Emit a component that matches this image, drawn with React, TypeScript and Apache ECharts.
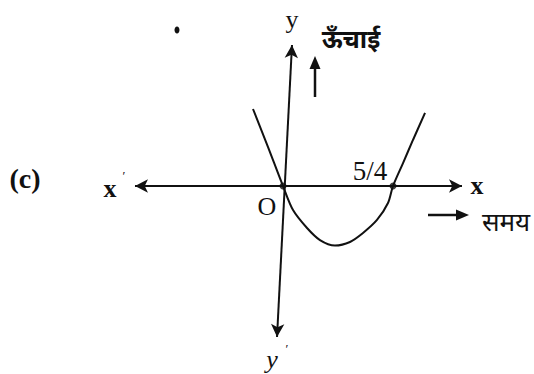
import React, { useEffect, useRef } from "react";
import * as echarts from "echarts";

// Parabola points (O at 0, second root at 5/4)
const curveX = [-0.341, -0.17, 0, 0.114, 0.273, 0.42, 0.591, 0.761, 0.909, 1.068, 1.193, 1.25, 1.364, 1.477, 1.614];
const curveY = [0.875, 0.443, 0, -0.273, -0.477, -0.614, -0.676, -0.636, -0.534, -0.386, -0.193, 0, 0.261, 0.523, 0.83];
const rootsX = [0, 1.25];
const rootLabels = ["O", "5/4"];
const xAxisEnds = [[-1.682, 0], [2.034, 0]];
const yAxisEnds = [[0.102, 1.602], [-0.068, -1.716]];
const axisNames = ["x", "x", "y", "y"];
const hindiHeight = "ऊँचाई";
const hindiTime = "समय";
const panelLabel = "(c)";

const INK = "#111";
const SERIF = '"Liberation Serif", "DejaVu Serif", serif';
const DEV = '"Noto Sans", "Lohit Devanagari", "FreeSans", sans-serif';

export default function App() {
  const ref = useRef<HTMLDivElement>(null);
  useEffect(() => {
    document.body.style.margin = "0";
    const chart = echarts.init(ref.current!, null, { renderer: "svg" });
    const t = (x: number, y: number, text: string, size: number, extra: any = {}) => ({
      type: "text",
      x,
      y,
      silent: true,
      style: {
        text,
        fontSize: size,
        fontFamily: SERIF,
        fill: INK,
        align: "center",
        verticalAlign: "middle",
        ...extra,
      },
    });
    chart.setOption({
      animation: false,
      backgroundColor: "#fff",
      grid: { left: 19, right: 31, top: 10, bottom: 12 },
      xAxis: { type: "value", min: -3, max: 2.5, show: false },
      yAxis: { type: "value", min: -2, max: 2, show: false },
      series: [
        {
          type: "line",
          data: curveX.map((x, i) => [x, curveY[i]]),
          smooth: 0.3,
          showSymbol: false,
          clip: false,
          silent: true,
          lineStyle: { color: INK, width: 2 },
        },
        {
          type: "scatter",
          data: rootsX.map((x, i) => ({ value: [x, 0], name: rootLabels[i] })),
          symbolSize: 7,
          itemStyle: { color: INK },
          silent: true,
          markLine: {
            silent: true,
            symbol: ["arrow", "arrow"],
            symbolSize: [10, 13],
            label: { show: false },
            lineStyle: { type: "solid", color: INK, width: 2, opacity: 1 },
            data: [
              [{ coord: xAxisEnds[0] }, { coord: xAxisEnds[1] }],
              [{ coord: yAxisEnds[0] }, { coord: yAxisEnds[1] }],
            ],
          },
        },
      ],
      graphic: [
        t(25, 178, panelLabel, 28, { fontWeight: "bold" }),
        t(110, 188, axisNames[0], 26, { fontWeight: "bold" }),
        t(124, 175, "′", 13),
        t(477, 185, axisNames[1], 26, { fontWeight: "bold" }),
        t(292, 19, axisNames[2], 26),
        t(272, 359, axisNames[3], 26, { fontStyle: "italic" }),
        t(287, 348, "′", 13),
        t(267, 206, rootLabels[0], 26),
        t(370, 171, rootLabels[1], 27),
        t(351, 38, hindiHeight, 25, { fontFamily: DEV, fontWeight: "bold" }),
        t(506, 221, hindiTime, 26, { fontFamily: DEV }),
        {
          type: "line",
          silent: true,
          shape: { x1: 315, y1: 97, x2: 315, y2: 66 },
          style: { stroke: INK, lineWidth: 2.5 },
        },
        {
          type: "polygon",
          silent: true,
          shape: { points: [[315, 56], [309.5, 69], [320.5, 69]] },
          style: { fill: INK },
        },
        {
          type: "line",
          silent: true,
          shape: { x1: 428, y1: 215, x2: 460, y2: 215 },
          style: { stroke: INK, lineWidth: 2.5 },
        },
        {
          type: "polygon",
          silent: true,
          shape: { points: [[469, 215], [456, 209.5], [456, 220.5]] },
          style: { fill: INK },
        },
        {
          type: "ellipse",
          silent: true,
          shape: { cx: 177, cy: 30, rx: 2.5, ry: 3.5 },
          style: { fill: INK },
        },
      ],
    });
    return () => chart.dispose();
  }, []);
  return <div ref={ref} style={{ width: 534, height: 374 }} />;
}
